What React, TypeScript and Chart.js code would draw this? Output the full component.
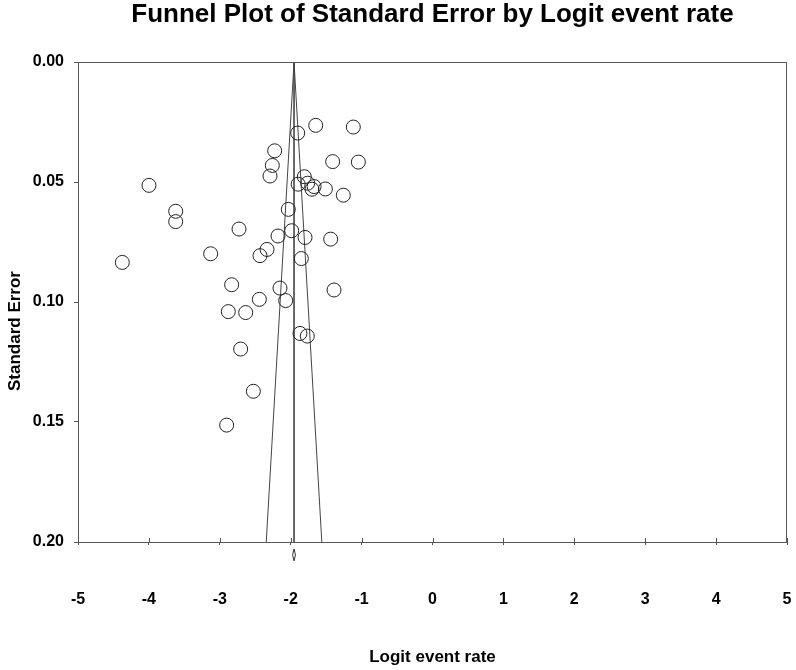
import React, { useEffect, useRef } from "react";
import { Chart, registerables } from "chart.js";

Chart.register(...registerables);

const TITLE = "Funnel Plot of Standard Error by Logit event rate";
const X_TITLE = "Logit event rate";
const Y_TITLE = "Standard Error";

const studyLogit = [
  -1.647, -1.117, -1.901, -2.226, -1.408, -1.046, -2.259, -2.292, -3.999, -1.808,
  -1.895, -1.76, -1.7, -1.67, -1.511, -1.258, -3.622, -3.622, -2.034, -2.729,
  -1.986, -2.179, -1.798, -1.436, -2.334, -2.433, -3.129, -4.375, -1.85, -2.833,
  -2.151, -1.389, -2.442, -2.071, -2.88, -2.635, -1.869, -1.766, -2.706, -2.527,
  -2.903,
];
const studySE = [
  0.0264, 0.0271, 0.0296, 0.037, 0.0415, 0.0417, 0.0431, 0.0475, 0.0514, 0.0478,
  0.0509, 0.0505, 0.053, 0.0519, 0.0529, 0.0555, 0.0622, 0.0665, 0.0614, 0.0696,
  0.0703, 0.0725, 0.0731, 0.0738, 0.0781, 0.0807, 0.0799, 0.0835, 0.0819, 0.0928,
  0.0942, 0.095, 0.0989, 0.0994, 0.104, 0.1044, 0.1131, 0.1142, 0.1196, 0.1372,
  0.1513,
];

const funnelSE = [0, 0.2];
const funnelLeftX = [-1.953, -2.345];
const funnelRightX = [-1.953, -1.561];
const meanX = [-1.953, -1.953];

const diamondX = [-1.973, -1.953, -1.933, -1.953, -1.973];
const diamondSE = [0.2054, 0.2029, 0.2054, 0.2079, 0.2054];

const xTicks = [-5, -4, -3, -2, -1, 0, 1, 2, 3, 4, 5];
const yTicks = [0, 0.05, 0.1, 0.15, 0.2];

const FONT = "'Liberation Sans', Arial, sans-serif";

const pts = (xs: number[], ys: number[]) => xs.map((x, i) => ({ x, y: ys[i] }));

const framePlugin = {
  id: "frame",
  afterDraw(chart: any) {
    const { ctx, chartArea: a } = chart;
    const xs = chart.scales.x;
    ctx.save();
    ctx.strokeStyle = "#555";
    ctx.lineWidth = 1;
    ctx.strokeRect(a.left + 0.5, a.top + 0.5, a.right - a.left - 1, a.bottom - a.top);
    ctx.beginPath();
    xTicks.forEach((v) => {
      const px = Math.round(xs.getPixelForValue(v)) + 0.5;
      ctx.moveTo(px, a.bottom - 4);
      ctx.lineTo(px, a.bottom);
    });
    ctx.stroke();
    // y axis title
    ctx.fillStyle = "#000";
    ctx.font = `bold 17px ${FONT}`;
    ctx.textAlign = "center";
    ctx.textBaseline = "middle";
    ctx.translate(15, 331);
    ctx.rotate(-Math.PI / 2);
    ctx.fillText(Y_TITLE, 0, 0);
    ctx.restore();
  },
};

export default function App() {
  const ref = useRef<HTMLCanvasElement>(null);
  useEffect(() => {
    if (!ref.current) return;
    const chart = new Chart(ref.current, {
      type: "scatter",
      data: {
        datasets: [
          {
            label: "studies",
            data: pts(studyLogit, studySE),
            pointRadius: 7,
            pointBorderWidth: 1,
            pointBorderColor: "#222",
            pointBackgroundColor: "rgba(0,0,0,0)",
            showLine: false,
          },
          {
            label: "left",
            data: pts(funnelLeftX, funnelSE),
            showLine: true,
            borderColor: "#444",
            borderWidth: 1,
            pointRadius: 0,
          },
          {
            label: "right",
            data: pts(funnelRightX, funnelSE),
            showLine: true,
            borderColor: "#444",
            borderWidth: 1,
            pointRadius: 0,
          },
          {
            label: "mean",
            data: pts(meanX, funnelSE),
            showLine: true,
            borderColor: "#555",
            borderWidth: 1,
            pointRadius: 0,
          },
          {
            label: "diamond",
            data: pts(diamondX, diamondSE),
            showLine: true,
            borderColor: "#333",
            borderWidth: 1,
            pointRadius: 0,
            clip: false as any,
          },
        ],
      },
      options: {
        responsive: false,
        animation: false,
        devicePixelRatio: 1,
        layout: { padding: { left: 0, right: 9, top: 0, bottom: 0 } },
        plugins: {
          legend: { display: false },
          tooltip: { enabled: false },
          title: {
            display: true,
            text: TITLE,
            fullSize: false,
            color: "#000",
            font: { family: FONT, size: 26, weight: "bold", lineHeight: 1 },
            padding: { top: 2, bottom: 34 },
          },
        },
        scales: {
          x: {
            type: "linear",
            min: -5,
            max: 5,
            afterBuildTicks: (s: any) => {
              s.ticks = xTicks.map((v) => ({ value: v }));
            },
            afterFit: (s: any) => {
              s.height = 128;
              s.paddingLeft = 0;
              s.paddingRight = 0;
            },
            border: { display: false },
            grid: { drawOnChartArea: false, drawTicks: true, tickLength: 3, color: "#555" },
            ticks: {
              color: "#000",
              padding: 45,
              maxRotation: 0,
              autoSkip: false,
              font: { family: FONT, size: 16, weight: "bold" },
              callback: (v: any) => String(v),
            },
            title: {
              display: true,
              text: X_TITLE,
              color: "#000",
              font: { family: FONT, size: 17, weight: "bold" },
              padding: { top: 2, bottom: 2 },
            },
          },
          y: {
            type: "linear",
            reverse: true,
            min: 0,
            max: 0.2,
            afterBuildTicks: (s: any) => {
              s.ticks = yTicks.map((v) => ({ value: v }));
            },
            afterFit: (s: any) => {
              s.width = 78;
              s.paddingTop = 0;
              s.paddingBottom = 0;
            },
            border: { display: false },
            grid: { drawOnChartArea: false, drawTicks: true, tickLength: 4, color: "#555" },
            ticks: {
              color: "#000",
              padding: 10,
              autoSkip: false,
              font: { family: FONT, size: 16, weight: "bold" },
              callback: (v: any) => Number(v).toFixed(2),
            },
          },
        },
      },
      plugins: [framePlugin],
    } as any);
    return () => chart.destroy();
  }, []);

  return (
    <div style={{ position: "fixed", left: 0, top: 0, width: 796, height: 670, background: "#fff" }}>
      <canvas ref={ref} width={796} height={670} />
    </div>
  );
}
